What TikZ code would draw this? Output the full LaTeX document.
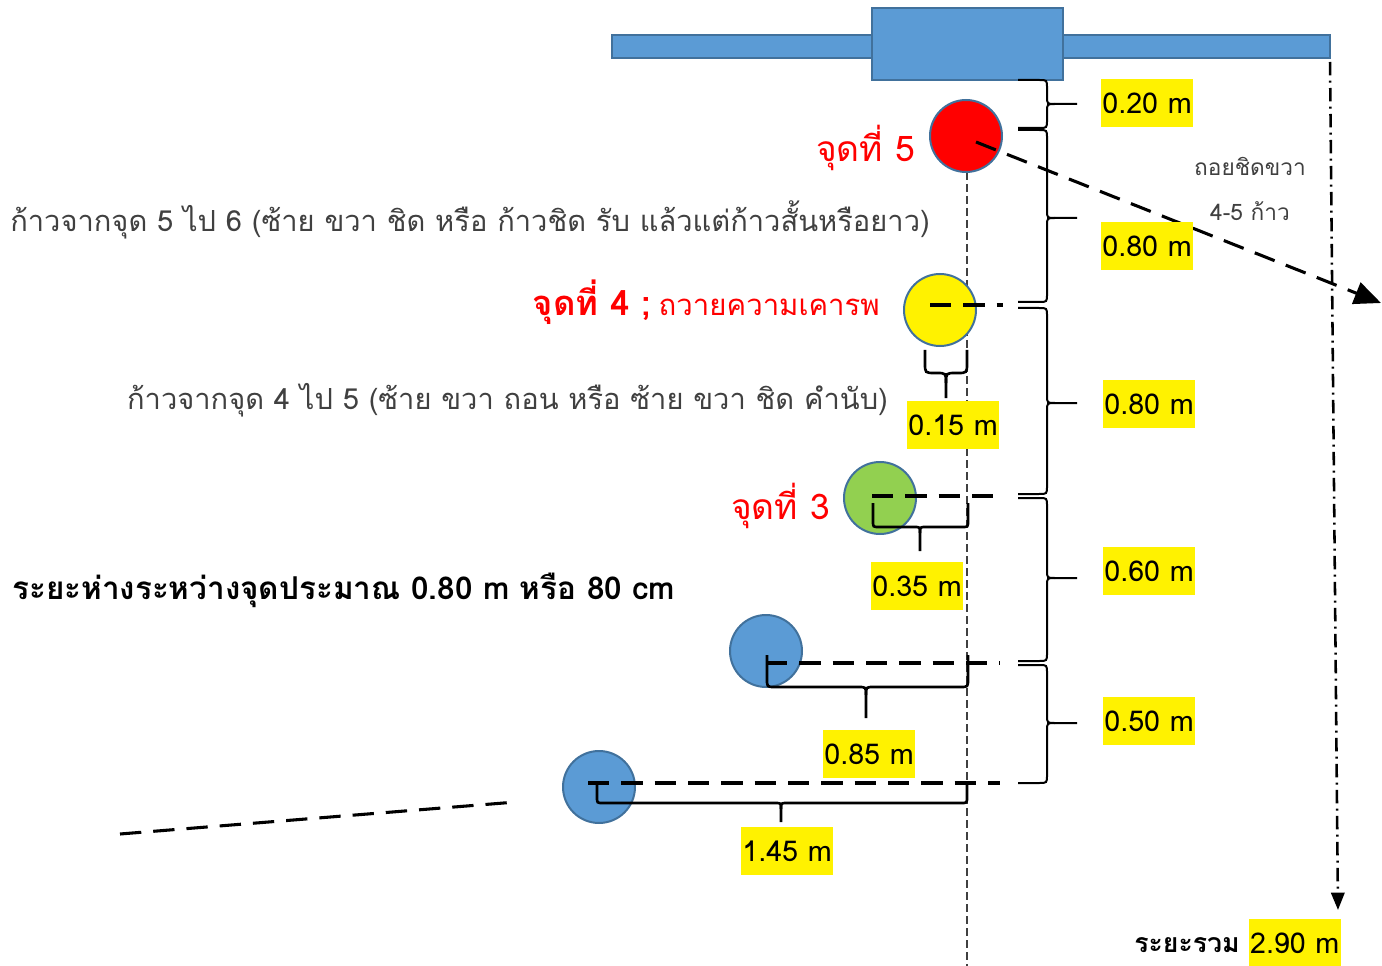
\documentclass[tikz,border=0pt]{standalone}
\usepackage{fontspec}
\setmainfont[Script=Thai]{Loma}
\usetikzlibrary{arrows.meta}
\definecolor{barblue}{HTML}{5B9BD5}
\definecolor{edgeblue}{HTML}{41719C}
\definecolor{ptgreen}{HTML}{92D050}
\definecolor{txtgray}{HTML}{404040}
\newcommand{\RBr}[6]{% xa xs xt y1 ym y2
  \draw[bracestyle] (#1,#4) -- (#2-8,#4) .. controls (#2,#4) .. (#2,#4+8) -- (#2,#5-8) .. controls (#2,#5) .. (#2+8,#5) -- (#3,#5);
  \draw[bracestyle] (#2+8,#5) .. controls (#2,#5) .. (#2,#5+8) -- (#2,#6-8) .. controls (#2,#6) .. (#2-8,#6) -- (#1,#6);}
\newcommand{\DBr}[7]{% xl xr ya ys yt xm r
  \draw[hbrace] (#1,#3) -- (#1,#4-#7) .. controls (#1,#4) .. (#1+#7,#4) -- (#6-#7,#4) .. controls (#6,#4) .. (#6,#4+#7) -- (#6,#5);
  \draw[hbrace] (#6,#4+#7) .. controls (#6,#4) .. (#6+#7,#4) -- (#2-#7,#4) .. controls (#2,#4) .. (#2,#4-#7) -- (#2,#3);}
\begin{document}
\begin{tikzpicture}[x=0.75pt,y=-0.75pt,
  circ/.style={circle,draw=edgeblue,line width=1.5pt,minimum size=54pt,inner sep=0pt},
  bar/.style={fill=barblue,draw=edgeblue,line width=1.5pt},
  ylab/.style={fill=yellow,minimum width=69pt,minimum height=36pt,inner sep=0pt,font=\fontsize{21.5}{24}\selectfont},
  bracestyle/.style={line width=1.5pt,black},
  hbrace/.style={line width=2pt,black},
  cline/.style={line width=2.3pt,dash pattern=on 16pt off 9pt},
  guide/.style={line width=1.1pt,txtgray,dash pattern=on 6pt off 3pt},
  redlab/.style={text=red,font=\fontsize{26.5}{30}\selectfont},
  note/.style={text=txtgray,font=\fontsize{21.8}{26}\selectfont}]
\useasboundingbox (0,0) rectangle (1382,966);
% top structure
\draw[bar] (612,35) rectangle (1330,58);
\draw[bar] (872,8) rectangle (1063,80);
% guide line
\coordinate (g1) at (967,172);
\coordinate (g2) at (967,966);
\draw[guide] (g1) -- (g2);
% circles
\node[circ,fill=red] (p5) at (966,136) {};
\node[circ,fill=yellow] (p4) at (940,310) {};
\node[circ,fill=ptgreen] (p3) at (880,498) {};
\node[circ,fill=barblue] (p2) at (766,651) {};
\node[circ,fill=barblue] (p1) at (599,787) {};
% center dashed lines
\coordinate (c4a) at (930,305); \coordinate (c4b) at (1003,305);
\coordinate (c3a) at (872,496); \coordinate (c3b) at (1003,496);
\coordinate (c2a) at (766,663); \coordinate (c2b) at (1000,663);
\coordinate (c1a) at (588,783); \coordinate (c1b) at (1000,783);
\draw[cline] (c4a) -- (c4b);
\draw[cline] (c3a) -- (c3b);
\draw[cline] (c2a) -- (c2b);
\draw[cline] (c1a) -- (c1b);
% big dashed arrow
\coordinate (a0) at (976,142);
\coordinate (a1) at (1381,303);
\draw[cline,-{Triangle[length=20pt,width=17pt]}] (a0) -- (a1);
% dash-dot total arrow
\coordinate (t0) at (1330,62);
\coordinate (t1) at (1338,910);
\draw[line width=1.9pt,dash pattern=on 10pt off 4pt on 1.5pt off 4pt,-{Triangle[length=13pt,width=10pt]}] (t0) -- (t1);
% bottom-left dashed line
\coordinate (l0) at (120,834);
\coordinate (l1) at (516,802);
\draw[cline] (l0) -- (l1);
% right braces
\RBr{1018}{1047}{1077}{80}{104}{128}
\RBr{1018}{1047}{1077}{130}{218}{302}
\RBr{1018}{1047}{1077}{308}{403}{494}
\RBr{1018}{1047}{1077}{498}{578}{661}
\RBr{1018}{1047}{1077}{665}{723}{783}
% lower braces
\DBr{925}{967}{350}{373}{398}{946}{10}
\DBr{873}{968}{503}{527}{551}{920}{6}
\DBr{767}{968}{655}{687}{718}{866}{8}
\DBr{597}{967}{783}{803}{822}{781}{6}
% yellow labels
\node[ylab] (d1) at (1147,103) {0.20 m};
\node[ylab] (d2) at (1147,246) {0.80 m};
\node[ylab] (d3) at (1149,404) {0.80 m};
\node[ylab] (d4) at (1149,571) {0.60 m};
\node[ylab] (d5) at (1149,721) {0.50 m};
\node[ylab] (h1) at (953,425) {0.15 m};
\node[ylab] (h2) at (917,586) {0.35 m};
\node[ylab] (h3) at (869,754) {0.85 m};
\node[ylab] (h4) at (787,851) {1.45 m};
\node[ylab,anchor=east] (tot) at (1341,943) {2.90 m};
\node[anchor=east,font=\bfseries\fontsize{20}{24}\selectfont,inner sep=0pt] (totl) at (1240,945) {ระยะรวม};
% red point labels
\node[redlab,anchor=east,inner sep=0pt] (l5) at (915,148) {จุดที่ 5};
\node[anchor=east,inner sep=0pt,text=red] (l4) at (880,302) {{\bfseries\fontsize{26}{30}\selectfont จุดที่ 4 ;}\hspace{6pt}{\fontsize{22}{26}\selectfont ถวายความเคารพ}};
\node[redlab,anchor=east,inner sep=0pt] (l3) at (830,506) {จุดที่ 3};
% notes
\node[note,anchor=west,inner sep=0pt] (n1) at (10,220) {ก้าวจากจุด 5 ไป 6 (ซ้าย ขวา ชิด หรือ ก้าวชิด รับ แล้วแต่ก้าวสั้นหรือยาว)};
\node[note,anchor=east,inner sep=0pt] (n2) at (888,400) {ก้าวจากจุด 4 ไป 5 (ซ้าย ขวา ถอน หรือ ซ้าย ขวา ชิด คำนับ)};
\node[anchor=west,inner sep=0pt,font=\bfseries\fontsize{23.6}{28}\selectfont] (n3) at (12,590) {ระยะห่างระหว่างจุดประมาณ 0.80 m หรือ 80 cm};
\node[text=txtgray,font=\fontsize{17}{20}\selectfont,inner sep=0pt] (n4) at (1250,166) {ถอยชิดขวา};
\node[text=txtgray,font=\fontsize{17}{20}\selectfont,inner sep=0pt] (n5) at (1250,211) {4-5 ก้าว};
\end{tikzpicture}
\end{document}
